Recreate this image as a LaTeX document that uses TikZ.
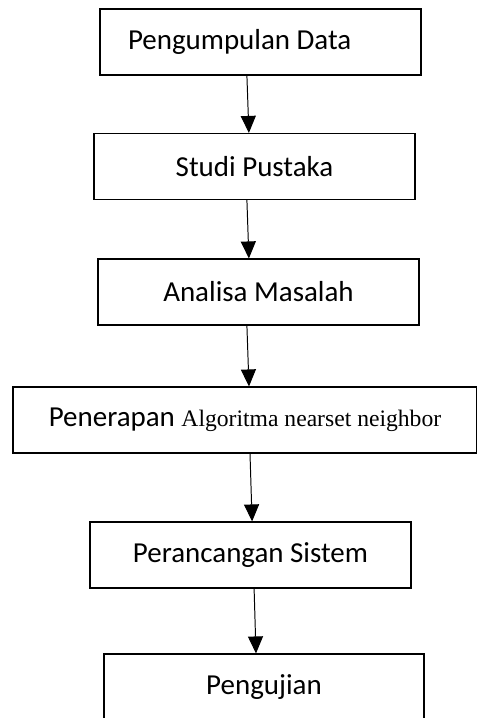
\documentclass[tikz,border=0pt]{standalone}
\usepackage{fontspec}
\setmainfont{Carlito}
\newfontfamily\romanfont{Liberation Serif}
\usepackage{tikz}
\usetikzlibrary{arrows.meta, positioning}

\begin{document}
\begin{tikzpicture}[
    box/.style={draw, line width=0.8pt, minimum width=8.025cm, minimum height=1.65cm,
                inner sep=0pt, font=\fontsize{20.6}{24}\selectfont},
    arr/.style={-{Triangle[width=3.75mm, length=4.25mm]}, line width=0.7pt}
]
\useasboundingbox (0,0) rectangle (11.925,-17.95);

% Flow steps
\node[box, text width=6.625cm, inner xsep=7mm, align=flush left] (kumpul) at (6.5125,-1.05) {Pengumpulan Data};
\node[box] (studi) at (6.3625,-4.1625) {Studi Pustaka};
\node[box] (analisa) at (6.4625,-7.3) {Analisa Masalah};
\node[box, minimum width=11.6cm] (terap) at (6.125,-10.5)
    {Penerapan {\romanfont\fontsize{16.8}{20}\selectfont Algoritma nearset neighbor}};
\node[box] (rancang) at (6.2625,-13.875) {Perancangan Sistem};
\node[box, minimum width=8cm] (uji) at (6.6,-17.175) {\raisebox{2pt}{Pengujian}};

% Arrows
\draw[arr] ([xshift=-3.4mm]kumpul.south) -- ([xshift=-1.4mm]studi.north);
\draw[arr] ([xshift=-1.9mm]studi.south) -- ([xshift=-2.4mm]analisa.north);
\draw[arr] ([xshift=-2.9mm]analisa.south) -- ([xshift=1mm]terap.north);
\draw[arr] ([xshift=1.25mm]terap.south) -- ([xshift=0.4mm]rancang.north);
\draw[arr] ([xshift=0.9mm]rancang.south) -- ([xshift=-2mm]uji.north);
\end{tikzpicture}
\end{document}
